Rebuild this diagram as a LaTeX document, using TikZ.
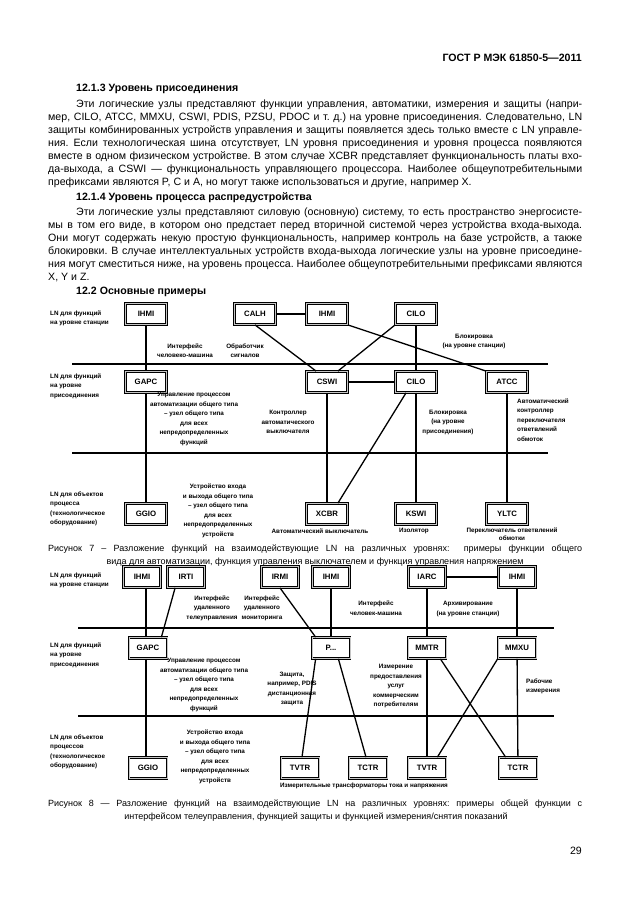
\documentclass[tikz,border=0pt]{standalone}
\usepackage{fontspec}
\setmainfont{Liberation Sans}
\usetikzlibrary{calc}
\frenchspacing

\newcommand{\fullline}[1]{\makebox[534pt][s]{#1}}
\newcommand{\firstline}[1]{\makebox[506pt][s]{#1}}

\begin{document}
\begin{tikzpicture}[x=1pt, y=-1pt,
    txt/.style={anchor=base west, inner sep=0pt, font=\fontsize{10.6}{13}\selectfont},
    head/.style={anchor=base west, inner sep=0pt, font=\fontsize{10.6}{13}\selectfont\bfseries},
    capt/.style={anchor=base, inner sep=0pt, font=\fontsize{9}{13}\selectfont},
    lnbox/.style={draw, line width=0.8pt, double=gray!45, double distance=0.5pt, fill=white,
      minimum width=41, minimum height=21, inner sep=0pt, font=\fontsize{7.8}{8}\selectfont\bfseries},
    lnboxt/.style={lnbox, minimum width=37, minimum height=21},
    lnboxb/.style={lnbox, minimum width=38, minimum height=21},
    bus/.style={line width=2.8pt},
    link/.style={line width=1.3pt},
    note/.style={font=\fontsize{6.3}{9.5}\selectfont\bfseries, align=center, inner sep=0pt},
    level/.style={note, align=left, anchor=west}]
  \useasboundingbox (0,0) rectangle (630,913);

  % page text
  \node[head, anchor=base east] (hdr) at (582,61) {ГОСТ Р МЭК 61850-5—2011};
  \node[head] (h1213) at (76,91) {12.1.3 Уровень присоединения};
  \node[txt] (p1a) at (76,107) {\firstline{Эти логические узлы представляют функции управления, автоматики, измерения и защиты (напри-}};
  \node[txt] (p1b) at (48,120) {\fullline{мер, CILO, ATCC, MMXU, CSWI, PDIS, PZSU, PDOC и т. д.) на уровне присоединения. Следовательно, LN}};
  \node[txt] (p1c) at (48,133) {\fullline{защиты комбинированных устройств управления и защиты появляется здесь только вместе с LN управле-}};
  \node[txt] (p1d) at (48,146) {\fullline{ния. Если технологическая шина отсутствует, LN уровня присоединения и уровня процесса появляются}};
  \node[txt] (p1e) at (48,159) {\fullline{вместе в одном физическом устройстве. В этом случае XCBR представляет функциональность платы вхо-}};
  \node[txt] (p1f) at (48,172) {\fullline{да-выхода, а CSWI — функциональность управляющего процессора. Наиболее общеупотребительными}};
  \node[txt] (p1g) at (48,185) {префиксами являются P, C и A, но могут также использоваться и другие, например X.};
  \node[head] (h1214) at (76,200) {12.1.4 Уровень процесса распредустройства};
  \node[txt] (p2a) at (76,215) {\firstline{Эти логические узлы представляют силовую (основную) систему, то есть пространство энергосисте-}};
  \node[txt] (p2b) at (48,228) {\fullline{мы в том его виде, в котором оно предстает перед вторичной системой через устройства входа-выхода.}};
  \node[txt] (p2c) at (48,241) {\fullline{Они могут содержать некую простую функциональность, например контроль на базе устройств, а также}};
  \node[txt] (p2d) at (48,254) {\fullline{блокировки. В случае интеллектуальных устройств входа-выхода логические узлы на уровне присоедине-}};
  \node[txt] (p2e) at (48,267) {\fullline{ния могут сместиться ниже, на уровень процесса. Наиболее общеупотребительными префиксами являются}};
  \node[txt] (p2f) at (48,280) {X, Y и Z.};
  \node[head] (h122) at (76,294) {12.2 Основные примеры};

  % Figure 7
  \coordinate (b7a-w) at (72,364);
  \coordinate (b7a-e) at (548,364);
  \coordinate (b7b-w) at (72,453);
  \coordinate (b7b-e) at (548,453);
  \draw[bus] (b7a-w) -- (b7a-e);
  \draw[bus] (b7b-w) -- (b7b-e);

  \node[lnbox] (ihmi7a) at (146,314) {IHMI};
  \node[lnbox] (calh7) at (255,314) {CALH};
  \node[lnbox] (ihmi7b) at (327,314) {IHMI};
  \node[lnbox] (cilo7a) at (416,314) {CILO};
  \node[lnbox] (gapc7) at (146,382) {GAPC};
  \node[lnbox] (cswi7) at (327,382) {CSWI};
  \node[lnbox] (cilo7b) at (416,382) {CILO};
  \node[lnbox] (atcc7) at (507,382) {ATCC};
  \node[lnbox] (ggio7) at (146,514) {GGIO};
  \node[lnbox] (xcbr7) at (327,514) {XCBR};
  \node[lnbox] (kswi7) at (416,514) {KSWI};
  \node[lnbox] (yltc7) at (507,514) {YLTC};

  \draw[link] (ihmi7a) -- (gapc7);
  \draw[link] (gapc7) -- (ggio7);
  \draw[link] (calh7) -- (ihmi7b);
  \draw[link] (calh7.south) -- ([xshift=10]cswi7.north west);
  \draw[link] (cilo7a.south west) -- ([xshift=-10]cswi7.north east);
  \draw[link] (ihmi7b.south east) -- (atcc7.north west);
  \draw[link] (cilo7a) -- (cilo7b);
  \draw[link] (cswi7) -- (cilo7b);
  \draw[link] (cswi7) -- (xcbr7);
  \draw[link] ([xshift=-10]cilo7b.south) -- ([xshift=-10]xcbr7.north east);
  \draw[link] (cilo7b) -- (kswi7);
  \draw[link] (atcc7) -- (yltc7);

  \node[level] (st7) at (50,318.5) {LN для функций\\на уровне станции};
  \node[note] (hmi7) at (185,350.5) {Интерфейс\\человеко-машина};
  \node[note] (alarm7) at (245,350.5) {Обработчик\\сигналов};
  \node[note] (ilst7) at (474,341.5) {Блокировка\\(на уровне станции)};
  \node[level] (bay7) at (50,386) {LN для функций\\на уровне\\присоединения};
  \node[note] (gapcd7) at (194,419) {Управление процессом\\автоматизации общего типа\\– узел общего типа\\для всех\\непредопределенных\\функций};
  \node[note] (cswid7) at (288,422) {Контроллер\\автоматического\\выключателя};
  \node[note] (ilbay7) at (448,422) {Блокировка\\(на уровне\\присоединения)};
  \node[level] (atccd7) at (517,420) {Автоматический\\контроллер\\переключателя\\ответвлений\\обмоток};
  \node[level] (proc7) at (50,509) {LN для объектов\\процесса\\(технологическое\\оборудование)};
  \node[note] (ggiod7) at (218,511) {Устройство входа\\и выхода общего типа\\– узел общего типа\\для всех\\непредопределенных\\устройств};
  \node[note] (xcbrd7) at (320,531) {Автоматический выключатель};
  \node[note] (kswid7) at (414,531) {Изолятор};
  \node[note, font=\fontsize{6.3}{8.3}\selectfont\bfseries] (yltcd7) at (512,534) {Переключатель ответвлений\\обмотки};

  \node[txt] (cap7a) at (48,551) {\fullline{\fontsize{9}{13}\selectfont Рисунок 7 – Разложение функций на взаимодействующие LN на различных уровнях:\ \ примеры функции общего}};
  \node[capt] (cap7b) at (315,564) {вида для автоматизации, функция управления выключателем и функция управления напряжением};

  % Figure 8
  \coordinate (b8a-w) at (78,628);
  \coordinate (b8a-e) at (554,628);
  \coordinate (b8b-w) at (78,716);
  \coordinate (b8b-e) at (554,716);
  \draw[bus] (b8a-w) -- (b8a-e);
  \draw[bus] (b8b-w) -- (b8b-e);

  \node[lnboxt] (ihmi8a) at (142,577) {IHMI};
  \node[lnboxt] (irti8) at (186,577) {IRTI};
  \node[lnboxt] (irmi8) at (280,577) {IRMI};
  \node[lnboxt] (ihmi8b) at (331,577) {IHMI};
  \node[lnboxt] (iarc8) at (427,577) {IARC};
  \node[lnboxt] (ihmi8c) at (517,577) {IHMI};
  \node[lnboxb] (gapc8) at (148,648) {GAPC};
  \node[lnboxb] (pfun8) at (331,648) {P...};
  \node[lnboxb] (mmtr8) at (427,648) {MMTR};
  \node[lnboxb] (mmxu8) at (517,648) {MMXU};
  \node[lnboxb] (ggio8) at (148,768) {GGIO};
  \node[lnboxb] (tvtr8a) at (300,768) {TVTR};
  \node[lnboxb] (tctr8a) at (368,768) {TCTR};
  \node[lnboxb] (tvtr8b) at (427,768) {TVTR};
  \node[lnboxb] (tctr8b) at (518,768) {TCTR};

  \draw[link] ([xshift=4]ihmi8a.south) -- ([xshift=4]ihmi8a.south |- gapc8.north);
  \draw[link] ([xshift=-2]gapc8.south) -- ([xshift=-2]gapc8.south |- ggio8.north);
  \draw[link] ([xshift=8]irti8.south west) -- ([xshift=-6]gapc8.north east);
  \draw[link] (irmi8.south) -- ([xshift=4]pfun8.north west);
  \draw[link] (ihmi8b) -- (pfun8);
  \draw[link] (iarc8) -- (ihmi8c);
  \draw[link] (iarc8) -- (mmtr8);
  \draw[link] (ihmi8c) -- (mmxu8);
  \draw[link] ([xshift=4]pfun8.south west) -- ([xshift=2]tvtr8a.north);
  \draw[link] ([xshift=-12]pfun8.south east) -- ([xshift=-2]tctr8a.north);
  \draw[link] (mmtr8) -- (tvtr8b);
  \draw[link] (mmxu8) -- (tctr8b);
  \draw[link] ([xshift=-6]mmtr8.south east) -- ([xshift=7]tctr8b.north west);
  \draw[link] (mmxu8.south west) -- ([xshift=-9]tvtr8b.north east);

  \node[level] (st8) at (50,580.5) {LN для функций\\на уровне станции};
  \node[note] (rtc8) at (212,608) {Интерфейс\\удаленного\\телеуправления};
  \node[note] (rmon8) at (262,608) {Интерфейс\\удаленного\\мониторинга};
  \node[note] (hmi8) at (376,608) {Интерфейс\\человек-машина};
  \node[note] (arc8) at (468,609) {Архивирование\\(на уровне станции)};
  \node[level] (bay8) at (50,655) {LN для функций\\на уровне\\присоединения};
  \node[note] (gapcd8) at (204,685) {Управление процессом\\автоматизации общего типа\\– узел общего типа\\для всех\\непредопределенных\\функций};
  \node[note] (prot8) at (292,689) {Защита,\\например, PDIS\\дистанционная\\защита};
  \node[note] (mmtrd8) at (396,686) {Измерение\\предоставления\\услуг\\коммерческим\\потребителям};
  \node[level] (mmxud8) at (526,686.5) {Рабочие\\измерения};
  \node[level] (proc8) at (50,752) {LN для объектов\\процессов\\(технологическое\\оборудование)};
  \node[note] (ggiod8) at (215,757) {Устройство входа\\и выхода общего типа\\– узел общего типа\\для всех\\непредопределенных\\устройств};
  \node[note] (instr8) at (364,786) {Измерительные трансформаторы тока и напряжения};

  \node[txt] (cap8a) at (48,806) {\fullline{\fontsize{9}{13}\selectfont Рисунок 8 — Разложение функций на взаимодействующие LN на различных уровнях: примеры общей функции с}};
  \node[capt] (cap8b) at (316,819) {интерфейсом телеуправления, функцией защиты и функцией измерения/снятия показаний};
  \node[txt, anchor=base east] (pgno) at (582,854) {29};
\end{tikzpicture}
\end{document}
